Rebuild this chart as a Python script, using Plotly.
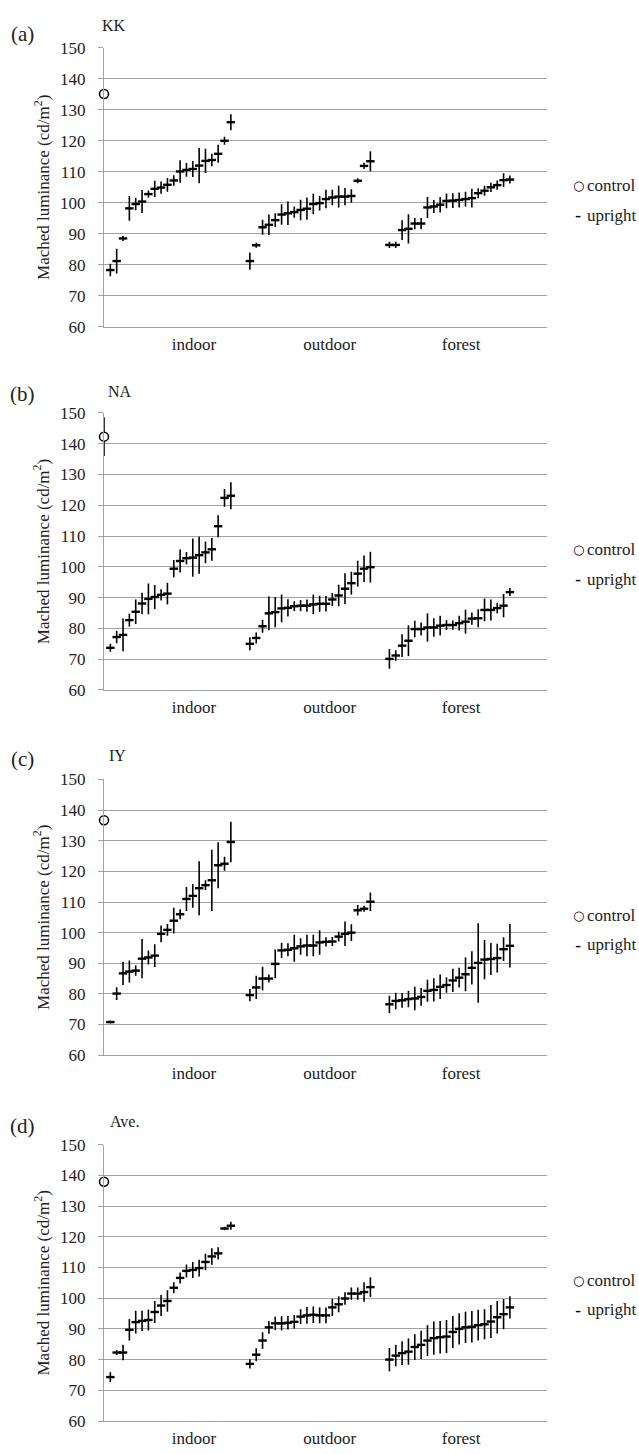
import plotly.graph_objects as go

W, H = 639, 1454

panel_tags = ["(a)", "(b)", "(c)", "(d)"]
subjects = ["KK", "NA", "IY", "Ave."]
categories = ["indoor", "outdoor", "forest"]
category_pos = [14.2, 35.6, 56.3]
y_ticks = [60, 70, 80, 90, 100, 110, 120, 130, 140, 150]

# ---------------- (a) KK ----------------
kk_control = 135.1
kk_control_err = 0.0
kk_indoor = [78.3, 81.2, 88.5, 98.2, 99.6, 100.4, 102.8, 104.5, 104.9, 105.8,
             107.2, 110.1, 110.6, 110.9, 112.0, 113.5, 113.8, 115.8, 120.0, 126.0]
kk_indoor_err = [2.0, 4.0, 0.8, 4.0, 2.0, 3.7, 1.2, 2.6, 2.0, 2.2,
                 1.7, 3.6, 2.2, 2.6, 5.7, 3.9, 2.0, 2.9, 1.3, 2.6]
kk_outdoor = [81.2, 86.3, 92.1, 92.9, 94.4, 96.2, 96.6, 97.0, 97.7, 98.1,
              99.6, 99.9, 101.2, 101.7, 102.0, 102.0, 102.2, 107.1, 111.9, 113.4]
kk_outdoor_err = [2.8, 0.8, 2.4, 3.3, 2.2, 3.3, 3.8, 1.8, 3.3, 3.6,
                  3.3, 2.4, 3.0, 2.5, 3.5, 2.8, 2.2, 0.8, 1.0, 3.2]
kk_forest = [86.4, 86.4, 91.2, 91.6, 93.3, 93.3, 98.5, 98.8, 99.4, 100.6,
             100.7, 100.9, 101.2, 101.5, 103.1, 103.9, 105.0, 105.7, 107.3, 107.5]
kk_forest_err = [1.0, 1.0, 3.2, 4.7, 1.8, 1.8, 3.4, 2.1, 2.5, 2.4,
                 2.4, 2.4, 2.4, 3.0, 1.6, 1.6, 1.5, 1.5, 2.2, 1.3]

# ---------------- (b) NA ----------------
na_control = 142.3
na_control_err = 6.3
na_indoor = [73.7, 77.2, 77.9, 82.7, 85.4, 88.1, 89.6, 90.2, 90.9, 91.3,
             99.4, 101.9, 102.8, 103.0, 103.8, 104.7, 105.7, 113.2, 122.4, 123.1]
na_indoor_err = [1.3, 2.0, 5.3, 2.1, 4.0, 3.5, 5.0, 3.9, 1.8, 3.5,
                 2.8, 3.7, 2.0, 6.2, 6.0, 3.5, 3.7, 3.6, 2.9, 4.4]
na_outdoor = [75.0, 76.9, 80.7, 84.9, 85.3, 86.5, 86.7, 87.2, 87.4, 87.4,
              87.8, 88.0, 88.0, 89.4, 90.7, 92.9, 94.7, 97.8, 99.4, 99.9]
na_outdoor_err = [2.1, 1.8, 2.1, 5.5, 4.9, 4.5, 2.8, 1.6, 1.8, 2.0,
                  3.2, 2.6, 2.5, 2.1, 3.5, 5.0, 3.7, 4.2, 4.3, 5.0]
na_forest = [70.1, 71.2, 74.4, 76.0, 79.8, 79.8, 80.3, 80.3, 80.9, 81.1,
             81.1, 81.7, 82.2, 83.2, 83.3, 86.0, 86.0, 86.6, 87.4, 91.8]
na_forest_err = [3.2, 1.7, 3.7, 5.0, 2.7, 2.1, 4.6, 3.0, 3.2, 1.6,
                 1.5, 2.4, 3.9, 2.0, 2.9, 3.7, 3.4, 1.7, 3.8, 1.3]

# ---------------- (c) IY ----------------
iy_control = 136.7
iy_control_err = 0.0
iy_indoor = [70.8, 80.1, 86.7, 87.3, 87.6, 91.5, 91.9, 92.5, 99.6, 100.9,
             103.9, 106.0, 111.0, 112.0, 114.5, 115.5, 117.1, 122.0, 122.5, 129.6]
iy_indoor_err = [0.5, 2.1, 3.8, 3.6, 1.7, 6.4, 2.3, 3.7, 2.7, 1.9,
                 4.2, 1.6, 3.9, 3.9, 8.8, 1.6, 10.0, 7.5, 2.3, 6.6]
iy_outdoor = [79.6, 82.1, 85.0, 85.0, 89.8, 94.2, 94.4, 94.9, 95.5, 95.8,
              95.8, 96.8, 97.0, 97.1, 98.7, 99.6, 100.0, 107.3, 107.8, 110.1]
iy_outdoor_err = [2.0, 3.8, 3.9, 1.3, 4.7, 2.5, 2.1, 4.4, 2.7, 3.5,
                  3.5, 4.0, 1.5, 1.5, 1.6, 4.0, 2.7, 1.7, 1.0, 3.0]
iy_forest = [76.6, 77.7, 77.9, 78.3, 78.5, 79.0, 81.0, 81.3, 82.3, 82.9,
             84.4, 85.3, 86.4, 88.5, 90.1, 91.2, 91.4, 91.7, 94.6, 95.7]
iy_forest_err = [2.8, 2.7, 2.4, 2.7, 3.8, 2.9, 3.6, 3.8, 4.0, 2.5,
                 3.8, 3.2, 5.5, 5.4, 13.0, 6.4, 5.2, 4.7, 3.9, 7.1]

# ---------------- (d) Ave. ----------------
ave_control = 137.9
ave_control_err = 0.0
ave_indoor = [74.3, 82.3, 82.3, 89.7, 92.2, 92.6, 92.9, 95.5, 97.6, 99.1,
              103.4, 106.6, 108.9, 109.2, 109.8, 111.8, 113.6, 114.6, 122.7, 123.6]
ave_indoor_err = [1.6, 0.8, 2.5, 3.5, 3.7, 3.3, 3.4, 3.6, 3.4, 3.5,
                  1.8, 1.8, 2.1, 2.6, 2.7, 2.7, 2.7, 2.0, 0.6, 1.3]
ave_outdoor = [78.6, 81.6, 86.2, 90.5, 91.8, 91.8, 92.0, 92.3, 94.0, 94.4,
               94.6, 94.4, 94.4, 97.0, 98.0, 99.9, 101.5, 101.5, 102.0, 103.6]
ave_outdoor_err = [1.5, 2.1, 2.7, 2.1, 2.2, 2.3, 2.2, 2.2, 2.4, 2.7,
                   2.7, 2.6, 2.6, 2.8, 2.6, 2.0, 2.0, 2.0, 3.2, 3.2]
ave_forest = [80.0, 81.3, 82.1, 82.6, 84.1, 84.8, 86.2, 87.0, 87.3, 87.5,
              89.0, 90.0, 90.5, 90.7, 91.2, 91.5, 92.4, 93.8, 94.8, 97.0]
ave_forest_err = [3.8, 3.5, 3.9, 4.3, 4.2, 4.6, 5.0, 5.4, 5.3, 5.4,
                  5.2, 5.1, 5.1, 5.1, 5.0, 4.9, 5.4, 5.3, 4.9, 3.6]

panel_data = [
    (kk_control, kk_control_err, kk_indoor, kk_indoor_err, kk_outdoor, kk_outdoor_err, kk_forest, kk_forest_err),
    (na_control, na_control_err, na_indoor, na_indoor_err, na_outdoor, na_outdoor_err, na_forest, na_forest_err),
    (iy_control, iy_control_err, iy_indoor, iy_indoor_err, iy_outdoor, iy_outdoor_err, iy_forest, iy_forest_err),
    (ave_control, ave_control_err, ave_indoor, ave_indoor_err, ave_outdoor, ave_outdoor_err, ave_forest, ave_forest_err),
]

# ---------------- layout (pixel positions) ----------------
PLOT_L, PLOT_R = 104.0, 546.7
X_MAX = 69.8
panel_top = [39.3, 409.3, 780.7, 1150.7]
panel_bot = [322.0, 690.0, 1060.0, 1430.7]
tag_y = [25, 390, 760, 1132]
subj_y = [17, 388, 756, 1127]
subj_x = [100, 106, 107, 108]
legend_y1 = [179, 548, 919, 1288]
legend_y2 = [209, 578, 948, 1318]

SERIF = "Liberation Serif"
GRID = "#a3a3a3"
TXT = "#222222"

def px_x(p):
    return p / W

def px_y(p):
    return 1 - p / H

fig = go.Figure()
annotations = []
layout = {}

# slot positions for the three groups (gap of two empty slots between groups)
n = len(kk_indoor)
x_indoor = list(range(1, n + 1))
x_outdoor = list(range(n + 3, 2 * n + 3))
x_forest = list(range(2 * n + 5, 3 * n + 5))

for i, (ctrl, ctrl_err, ind, ind_e, out, out_e, fst, fst_e) in enumerate(panel_data):
    k = "" if i == 0 else str(i + 1)
    xa, ya = "x" + k, "y" + k

    fig.add_trace(go.Scatter(
        x=x_indoor + x_outdoor + x_forest,
        y=ind + out + fst,
        mode="markers",
        xaxis=xa, yaxis=ya,
        marker=dict(symbol="line-ew", size=6, color="black",
                    line=dict(width=2.4, color="black")),
        error_y=dict(type="data", array=ind_e + out_e + fst_e,
                     color="black", thickness=1.6, width=0),
        showlegend=False, cliponaxis=False, name="upright",
    ))
    fig.add_trace(go.Scatter(
        x=[0], y=[ctrl],
        mode="markers",
        xaxis=xa, yaxis=ya,
        marker=dict(symbol="circle", size=9, color="white",
                    line=dict(width=1.5, color="black")),
        error_y=dict(type="data", array=[ctrl_err], color="black",
                     thickness=1.6, width=0, visible=ctrl_err > 0),
        showlegend=False, cliponaxis=False, name="control",
    ))

    layout["xaxis" + k] = dict(
        domain=[px_x(PLOT_L), px_x(PLOT_R)], range=[0, X_MAX],
        anchor=ya, showgrid=False, zeroline=False,
        showline=True, linecolor=GRID, linewidth=1,
        tickmode="array", tickvals=category_pos, ticktext=categories,
        ticks="", ticklabelstandoff=2,
        tickfont=dict(family=SERIF, size=17, color=TXT),
        fixedrange=True,
    )
    layout["yaxis" + k] = dict(
        domain=[px_y(panel_bot[i]), px_y(panel_top[i])], range=[60, 150],
        anchor=xa, showgrid=True, gridcolor=GRID, gridwidth=1,
        zeroline=False, showline=True, linecolor=GRID, linewidth=1,
        tickmode="array", tickvals=y_ticks,
        ticks="outside", ticklen=5, tickcolor=GRID, ticklabelstandoff=9,
        tickfont=dict(family=SERIF, size=17, color=TXT),
        title=dict(text="Mached luminance (cd/m<sup>2</sup>)", standoff=6,
                   font=dict(family=SERIF, size=17, color=TXT)),
        fixedrange=True,
    )

    annotations.append(dict(
        text=panel_tags[i], xref="paper", yref="paper",
        x=px_x(22), y=px_y(tag_y[i]), xanchor="center", yanchor="middle",
        showarrow=False, font=dict(family=SERIF, size=21, color=TXT)))
    annotations.append(dict(
        text=subjects[i], xref="paper", yref="paper",
        x=px_x(subj_x[i]), y=px_y(subj_y[i]), xanchor="left", yanchor="middle",
        showarrow=False, font=dict(family=SERIF, size=16, color=TXT)))
    # legend entries
    annotations.append(dict(
        text="○", xref="paper", yref="paper",
        x=px_x(578), y=px_y(legend_y1[i]), xanchor="center", yanchor="middle",
        showarrow=False, font=dict(family="DejaVu Sans", size=13, color="black")))
    annotations.append(dict(
        text="control", xref="paper", yref="paper",
        x=px_x(585), y=px_y(legend_y1[i]), xanchor="left", yanchor="middle",
        showarrow=False, font=dict(family=SERIF, size=17, color=TXT)))
    annotations.append(dict(
        text="-", xref="paper", yref="paper",
        x=px_x(578), y=px_y(legend_y2[i]), xanchor="center", yanchor="middle",
        showarrow=False, font=dict(family="DejaVu Sans", size=17, color="black")))
    annotations.append(dict(
        text="upright", xref="paper", yref="paper",
        x=px_x(585), y=px_y(legend_y2[i]), xanchor="left", yanchor="middle",
        showarrow=False, font=dict(family=SERIF, size=17, color=TXT)))

fig.update_layout(
    width=W, height=H,
    margin=dict(l=0, r=0, t=0, b=0),
    paper_bgcolor="white", plot_bgcolor="white",
    showlegend=False,
    annotations=annotations,
    **layout,
)

fig.write_html(
    "out.html",
    config={"displayModeBar": False},
    post_script="document.body.style.margin='0';document.body.style.overflow='hidden';",
)
